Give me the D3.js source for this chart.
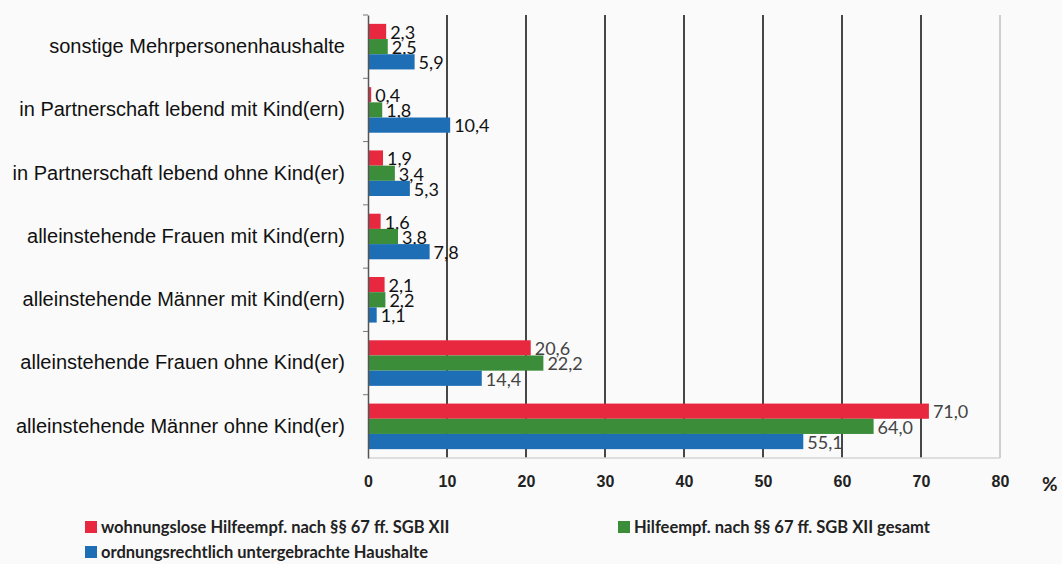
<!DOCTYPE html>
<html>
<head>
<meta charset="utf-8">
<script src="https://cdn.jsdelivr.net/npm/d3@7"></script>
<style>
  body { margin: 0; background: #fafafa; }
  svg { display: block; font-family: Lato, "Open Sans", sans-serif; }
</style>
</head>
<body>
<div id="chart"></div>
<script>
// Kategorien von oben nach unten
var categories = [
  "sonstige Mehrpersonenhaushalte",
  "in Partnerschaft lebend mit Kind(ern)",
  "in Partnerschaft lebend ohne Kind(er)",
  "alleinstehende Frauen mit Kind(ern)",
  "alleinstehende Männer mit Kind(ern)",
  "alleinstehende Frauen ohne Kind(er)",
  "alleinstehende Männer ohne Kind(er)"
];
var seriesNames = [
  "wohnungslose Hilfeempf. nach §§ 67 ff. SGB XII",
  "Hilfeempf. nach §§ 67 ff. SGB XII gesamt",
  "ordnungsrechtlich untergebrachte Haushalte"
];
var wohnungslos = [2.3, 0.4, 1.9, 1.6, 2.1, 20.6, 71.0];
var gesamt      = [2.5, 1.8, 3.4, 3.8, 2.2, 22.2, 64.0];
var ordnungsr   = [5.9, 10.4, 5.3, 7.8, 1.1, 14.4, 55.1];
var xTicks = [0, 10, 20, 30, 40, 50, 60, 70, 80];
var colors = ["#e8283f", "#3b8d3a", "#1d6eb4"];

var values = [wohnungslos, gesamt, ordnungsr];

var W = 1062, H = 564;
var pLeft = 368, pRight = 1000, pTop = 15, pBottom = 458;

var svg = d3.select("#chart").append("svg").attr("width", W).attr("height", H);

var x = d3.scaleLinear().domain([0, 80]).range([pLeft, pRight]);
var y = d3.scaleBand().domain(categories).range([pTop, pBottom]).paddingInner(0.28).paddingOuter(0.14);
var yInner = d3.scaleBand().domain([0, 1, 2]).range([0, y.bandwidth()]);

// Gitterlinien
svg.append("g").selectAll("line")
  .data(xTicks.filter(d => d > 0))
  .enter().append("line")
  .attr("x1", d => x(d)).attr("x2", d => x(d))
  .attr("y1", pTop).attr("y2", pBottom)
  .attr("stroke", d => d == 80 ? "#cfcfcf" : "#333")
  .attr("stroke-width", d => d == 80 ? 2 : 1.8);

// untere Rahmenlinie
svg.append("line")
  .attr("x1", pLeft).attr("x2", pRight).attr("y1", pBottom).attr("y2", pBottom)
  .attr("stroke", "#d4d4d4").attr("stroke-width", 1.5);

// Balken
var groups = svg.append("g").selectAll("g")
  .data(categories)
  .enter().append("g")
  .attr("transform", d => "translate(0," + y(d) + ")");

groups.each(function(cat, ci) {
  var g = d3.select(this);
  for (var s = 0; s < 3; s++) {
    var v = values[s][ci];
    g.append("rect")
      .attr("x", x(0))
      .attr("y", yInner(s))
      .attr("width", x(v) - x(0))
      .attr("height", yInner.bandwidth())
      .attr("fill", colors[s]);
    g.append("text")
      .attr("x", x(v) + 4)
      .attr("y", yInner(s) + yInner.bandwidth() / 2 + 1)
      .attr("dy", "0.35em")
      .attr("font-size", 18)
      .attr("fill", ci < 5 ? "#111" : "#444")
      .text(d3.format(".1f")(v).replace(".", ","));
  }
});

// y-Achse
var yAxis = d3.axisLeft(y).tickSize(0).tickPadding(23);
var yG = svg.append("g").attr("transform", "translate(" + pLeft + ",0)").call(yAxis);
yG.select(".domain").attr("stroke", "#555").attr("stroke-width", 1.5);
yG.selectAll("text").attr("font-size", 20).attr("fill", "#111");

// kleine Trennstriche links
svg.append("g").selectAll("line")
  .data(categories)
  .enter().append("line")
  .attr("x1", pLeft - 5).attr("x2", pLeft)
  .attr("y1", d => y(d) - y.step() * y.paddingInner() / 2)
  .attr("y2", d => y(d) - y.step() * y.paddingInner() / 2)
  .attr("stroke", "#777");

// x-Achse (nur Beschriftung)
var xAxis = d3.axisBottom(x).tickValues(xTicks).tickSize(0).tickPadding(18);
var xG = svg.append("g").attr("transform", "translate(0," + pBottom + ")").call(xAxis);
xG.select(".domain").remove();
xG.selectAll("text").attr("font-size", 16).attr("font-weight", "bold").attr("fill", "#222");

svg.append("text").attr("x", 1042).attr("y", 491)
  .attr("font-size", 19).attr("font-weight", "bold").attr("fill", "#222").text("%");

// Legende
var legendPos = [[85, 527], [618, 527], [85, 552]];
var leg = svg.append("g").selectAll("g")
  .data(seriesNames)
  .enter().append("g")
  .attr("transform", (d, i) => "translate(" + legendPos[i][0] + "," + legendPos[i][1] + ")");
leg.append("rect").attr("x", 0).attr("y", -6).attr("width", 12).attr("height", 12)
  .attr("fill", (d, i) => colors[i]);
leg.append("text").attr("x", 16).attr("y", 0).attr("dy", "0.35em")
  .attr("font-size", 16.5).attr("font-weight", "bold").attr("fill", "#222")
  .text(d => d);
</script>
</body>
</html>
